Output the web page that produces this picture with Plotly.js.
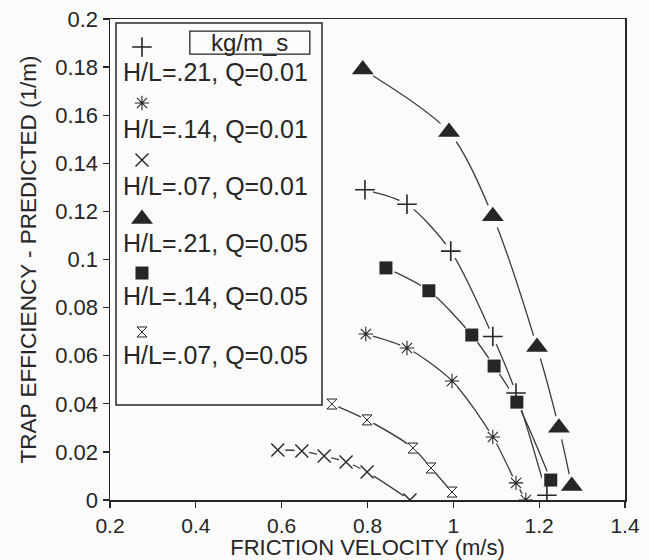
<!DOCTYPE html>
<html><head><meta charset="utf-8">
<script src="https://cdn.plot.ly/plotly-3.0.1.min.js"></script>
<style>html,body{margin:0;padding:0;background:#fbfbfb}</style>
</head><body><div id="chart" style="width:649px;height:560px"></div>
<script>
// Series names (legend labels)
const legendLabels = ["H/L=.21, Q=0.01", "H/L=.14, Q=0.01", "H/L=.07, Q=0.01",
                      "H/L=.21, Q=0.05", "H/L=.14, Q=0.05", "H/L=.07, Q=0.05"];
const legendUnits = "kg/m_s";

// Friction velocity (m/s) and trap efficiency - predicted (1/m)
const xPlus = [0.794, 0.892, 0.994, 1.092, 1.146, 1.218];
const yPlus = [0.129, 0.123, 0.1035, 0.068, 0.0445, 0.002];

const xAst = [0.796, 0.892, 0.997, 1.092, 1.146, 1.169];
const yAst = [0.069, 0.0632, 0.0495, 0.0262, 0.0071, 0.0];

const xCross = [0.591, 0.647, 0.699, 0.750, 0.799, 0.899];
const yCross = [0.0208, 0.0204, 0.0183, 0.0158, 0.0116, 0.0];

const xTri = [0.789, 0.990, 1.092, 1.195, 1.246, 1.276];
const yTri = [0.179, 0.153, 0.118, 0.0636, 0.030, 0.0058];

const xSq = [0.843, 0.943, 1.043, 1.095, 1.148, 1.227];
const ySq = [0.0965, 0.087, 0.0686, 0.0557, 0.0407, 0.0083];

const xHg = [0.717, 0.799, 0.906, 0.948, 0.997];
const yHg = [0.0399, 0.0333, 0.0216, 0.0133, 0.0033];

const xTicks = [0.2, 0.4, 0.6, 0.8, 1, 1.2, 1.4];
const yTicks = [0, 0.02, 0.04, 0.06, 0.08, 0.1, 0.12, 0.14, 0.16, 0.18, 0.2];

// Legend layout (paper fractions)
const legendMarkerX = [0.0621, 0.0621, 0.0621, 0.0621, 0.0621, 0.0621];
const legendMarkerY = [0.9418, 0.8254, 0.7069, 0.5842, 0.4719, 0.3493];
const legendTextY = [0.8898, 0.7713, 0.6528, 0.5343, 0.4241, 0.3015];

const ink = '#262626';
const lineCol = '#3c3c3c';
const bg = '#fbfbfb';
const FONT = 'Liberation Sans, Arial, Helvetica, sans-serif';

const styles = [
  {symbol: 'cross-thin-open', size: 14, lw: 1.6, gap: 17},
  {symbol: 'asterisk-open', size: 12, lw: 1.1, gap: 15},
  {symbol: 'x-thin-open', size: 13, lw: 1.4, gap: 15},
  {symbol: 'triangle-up', size: 19, lw: 0, gap: 24},
  {symbol: 'square', size: 13, lw: 0, gap: 19},
  {symbol: 'hourglass-open', size: 10, lw: 1.0, gap: 14}
];
const data = [[xPlus, yPlus], [xAst, yAst], [xCross, yCross], [xTri, yTri], [xSq, ySq], [xHg, yHg]];

const traces = [];
data.forEach(([x, y], i) => {
  traces.push({x, y, type: 'scatter', mode: 'lines', showlegend: false, hoverinfo: 'skip',
    line: {color: lineCol, width: 1.3, shape: 'spline', smoothing: 0.8}});
});
data.forEach(([x, y], i) => {
  traces.push({x, y, type: 'scatter', mode: 'markers', showlegend: false, hoverinfo: 'skip',
    marker: {symbol: 'circle', size: styles[i].gap, color: bg, line: {width: 0}}});
});
data.forEach(([x, y], i) => {
  const s = styles[i];
  traces.push({x, y, type: 'scatter', mode: 'markers', name: legendLabels[i], showlegend: false,
    marker: {symbol: s.symbol, size: s.size, color: ink, line: {color: ink, width: s.lw}}});
});
// legend markers on a hidden overlay axis (0..1 = plot area)
styles.forEach((s, i) => {
  traces.push({x: [legendMarkerX[i]], y: [legendMarkerY[i]], xaxis: 'x2', yaxis: 'y2',
    type: 'scatter', mode: 'markers', showlegend: false, hoverinfo: 'skip',
    marker: {symbol: s.symbol, size: s.size, color: ink, line: {color: ink, width: s.lw}}});
});

const annotations = legendLabels.map((t, i) => ({
  text: t, xref: 'paper', yref: 'paper', x: 0.0214, y: legendTextY[i],
  xanchor: 'left', yanchor: 'middle', showarrow: false,
  font: {family: FONT, size: 25, color: ink}
}));
annotations.push({text: legendUnits, xref: 'paper', yref: 'paper', x: 0.2715, y: 0.952,
  xanchor: 'center', yanchor: 'middle', showarrow: false, font: {family: FONT, size: 24, color: ink}});

const layout = {
  width: 649, height: 560,
  margin: {l: 110, r: 24, t: 19, b: 60},
  paper_bgcolor: bg, plot_bgcolor: bg,
  showlegend: false,
  font: {family: FONT, color: ink},
  xaxis: {
    range: [0.2, 1.4], tickvals: xTicks, ticktext: xTicks.map(String),
    ticks: 'outside', ticklen: 6, tickwidth: 1.3, tickcolor: ink,
    showline: true, linecolor: ink, linewidth: 1.5, mirror: true,
    showgrid: false, zeroline: false,
    tickfont: {family: FONT, size: 21, color: ink},
    title: {text: 'FRICTION VELOCITY (m/s)', font: {family: FONT, size: 22, color: ink}, standoff: 6}
  },
  yaxis: {
    range: [0, 0.2], tickvals: yTicks, ticktext: yTicks.map(String),
    ticks: 'outside', ticklen: 6, tickwidth: 1.3, tickcolor: ink,
    showline: true, linecolor: ink, linewidth: 1.5, mirror: true,
    showgrid: false, zeroline: false,
    tickfont: {family: FONT, size: 22, color: ink},
    title: {text: 'TRAP EFFICIENCY - PREDICTED (1/m)', font: {family: FONT, size: 22.5, color: ink}, standoff: 12}
  },
  xaxis2: {range: [0, 1], overlaying: 'x', visible: false, fixedrange: true},
  yaxis2: {range: [0, 1], overlaying: 'y', visible: false, fixedrange: true},
  shapes: [
    {type: 'rect', xref: 'paper', yref: 'paper', x0: 0.0117, x1: 0.4117, y0: 0.1975, y1: 0.9917,
     line: {color: ink, width: 1.5}, fillcolor: 'rgba(0,0,0,0)'},
    {type: 'rect', xref: 'paper', yref: 'paper', x0: 0.155, x1: 0.388, y0: 0.927, y1: 0.975,
     line: {color: ink, width: 1.3}, fillcolor: 'rgba(0,0,0,0)'}
  ],
  annotations
};

Plotly.newPlot('chart', traces, layout, {staticPlot: true, displayModeBar: false});
</script>
</body></html>
